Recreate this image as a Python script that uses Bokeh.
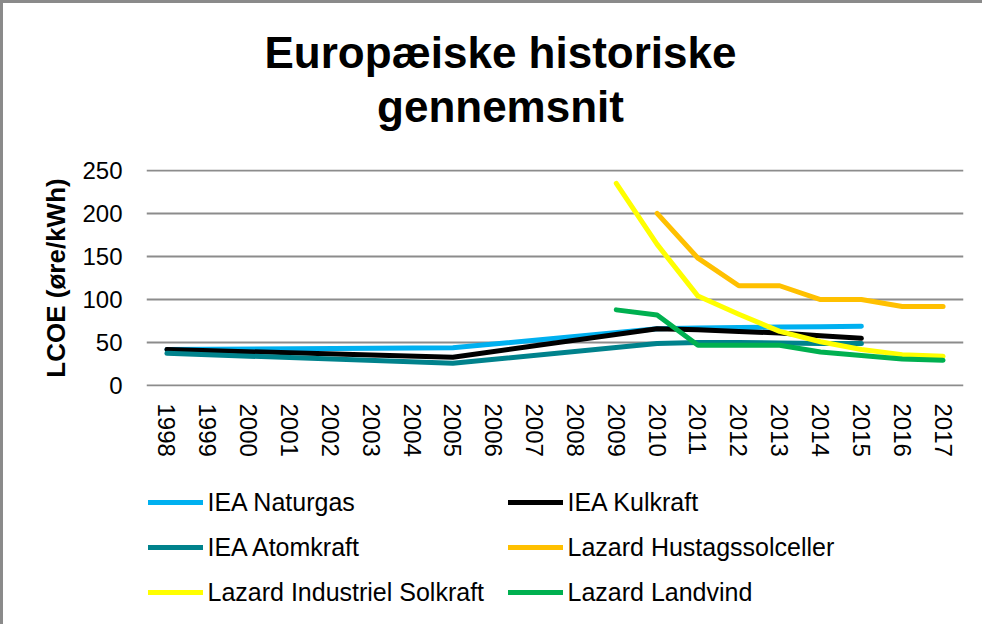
from bokeh.plotting import figure
from bokeh.layouts import column
from bokeh.models import Legend, LegendItem, Label, FixedTicker, Range1d, FactorRange
from bokeh.embed import file_html
from bokeh.resources import INLINE

# ---------------- data ----------------
years = [str(y) for y in range(1998, 2018)]

naturgas_years = ["1998", "2005", "2010", "2011", "2012", "2013", "2014", "2015"]
naturgas = [42, 44, 66, 67, 67.5, 68, 68.5, 69]

kulkraft_years = ["1998", "2005", "2010", "2011", "2012", "2013", "2014", "2015"]
kulkraft = [42, 33, 66, 65, 63, 61, 58, 55]

atomkraft_years = ["1998", "2005", "2010", "2011", "2012", "2013", "2014", "2015"]
atomkraft = [37.5, 26, 49, 50, 50, 49.5, 49, 49]

hustag_years = ["2010", "2011", "2012", "2013", "2014", "2015", "2016", "2017"]
hustag = [200, 148, 116, 116, 100, 100, 92, 92]

industriel_years = ["2009", "2010", "2011", "2012", "2013", "2014", "2015", "2016", "2017"]
industriel = [235, 164, 104, 83, 63, 51, 42, 36, 34]

landvind_years = ["2009", "2010", "2011", "2012", "2013", "2014", "2015", "2016", "2017"]
landvind = [88, 82, 47, 47, 47, 39, 35, 31, 29.5]

y_ticks = [0, 50, 100, 150, 200, 250]

title_lines = ["Europæiske historiske", "gennemsnit"]
y_label = "LCOE (øre/kWh)"

series = [
    ("IEA Naturgas", naturgas_years, naturgas, "#00B0F0"),
    ("IEA Kulkraft", kulkraft_years, kulkraft, "#000000"),
    ("IEA Atomkraft", atomkraft_years, atomkraft, "#00828C"),
    ("Lazard Hustagssolceller", hustag_years, hustag, "#FFC000"),
    ("Lazard Industriel Solkraft", industriel_years, industriel, "#FFFF00"),
    ("Lazard Landvind", landvind_years, landvind, "#00B050"),
]

# ---------------- common ----------------
FONT = "Liberation Sans"
BORDER = "3px solid #8a8a8a"
W = 979
H0, H1, H2 = 147, 320, 154


def blank(height, **kw):
    f = figure(width=W, height=height, output_backend="svg", toolbar_location=None,
               x_axis_location=None, y_axis_location=None,
               min_border_left=143, min_border_right=19,
               min_border_top=0, min_border_bottom=0, **kw)
    f.outline_line_color = None
    f.grid.visible = False
    f.background_fill_color = "white"
    f.border_fill_color = "white"
    return f


# ---------------- title strip ----------------
p0 = blank(H0, x_range=Range1d(0, 1), y_range=Range1d(0, 1))
for txt, yy in zip(title_lines, [98, 44]):
    p0.add_layout(Label(
        x=354, y=yy, x_units="screen", y_units="screen", text=txt,
        text_align="center", text_baseline="alphabetic",
        text_font=FONT, text_font_size="44px", text_font_style="bold",
        text_color="black",
    ))

# ---------------- main chart ----------------
p = figure(
    width=W, height=H1,
    x_range=FactorRange(*years, range_padding=0),
    y_range=Range1d(-1, 251),
    output_backend="svg",
    toolbar_location=None,
    min_border_left=143, min_border_right=19,
    min_border_top=19, min_border_bottom=84,
)
p.outline_line_color = None
p.background_fill_color = "white"
p.border_fill_color = "white"

p.xgrid.grid_line_color = None
p.ygrid.grid_line_color = "#8c8c8c"
p.ygrid.grid_line_width = 2
p.yaxis.ticker = FixedTicker(ticks=y_ticks)

for ax in (p.xaxis[0], p.yaxis[0]):
    ax.axis_line_color = None
    ax.major_tick_line_color = None
    ax.minor_tick_line_color = None
    ax.major_tick_out = 0
    ax.major_tick_in = 0
    ax.major_label_text_font = FONT
    ax.major_label_text_font_size = "24px"
    ax.major_label_text_color = "black"

p.yaxis.major_label_standoff = 24
p.yaxis.axis_label = y_label
p.yaxis.axis_label_text_font = FONT
p.yaxis.axis_label_text_font_size = "26px"
p.yaxis.axis_label_text_font_style = "bold"
p.yaxis.axis_label_text_color = "black"
p.yaxis.axis_label_standoff = 8

p.xaxis.major_label_orientation = "vertical"
p.xaxis.major_label_standoff = 17

for name, xs, ys, color in series:
    p.line(x=xs, y=ys, line_color=color, line_width=5,
           line_cap="round", line_join="round")

# ---------------- legend strip ----------------
# same series drawn against a y range where they fall outside the view,
# so that only their legend entries show
p2 = blank(H2, x_range=p.x_range, y_range=Range1d(1000, 1001))

items = []
for name, xs, ys, color in series:
    r = p2.line(x=xs, y=ys, line_color=color, line_width=5, line_cap="round")
    items.append(LegendItem(label=name, renderers=[r]))

legend = Legend(
    items=items,
    location=(1.5, 11.8),
    orientation="horizontal",
    ncols=2,
    padding=0, margin=0, spacing=5,
    glyph_width=55, glyph_height=40, label_height=40, label_width=295,
    label_standoff=5,
    label_text_font=FONT, label_text_font_size="25px",
    label_text_color="black", label_text_baseline="middle",
    border_line_color=None, background_fill_color=None,
)
p2.add_layout(legend)

layout = column(p0, p, p2, spacing=0)
layout.styles = {"border-left": BORDER, "border-top": BORDER}
open("out.html", "w").write(file_html(layout, INLINE))
